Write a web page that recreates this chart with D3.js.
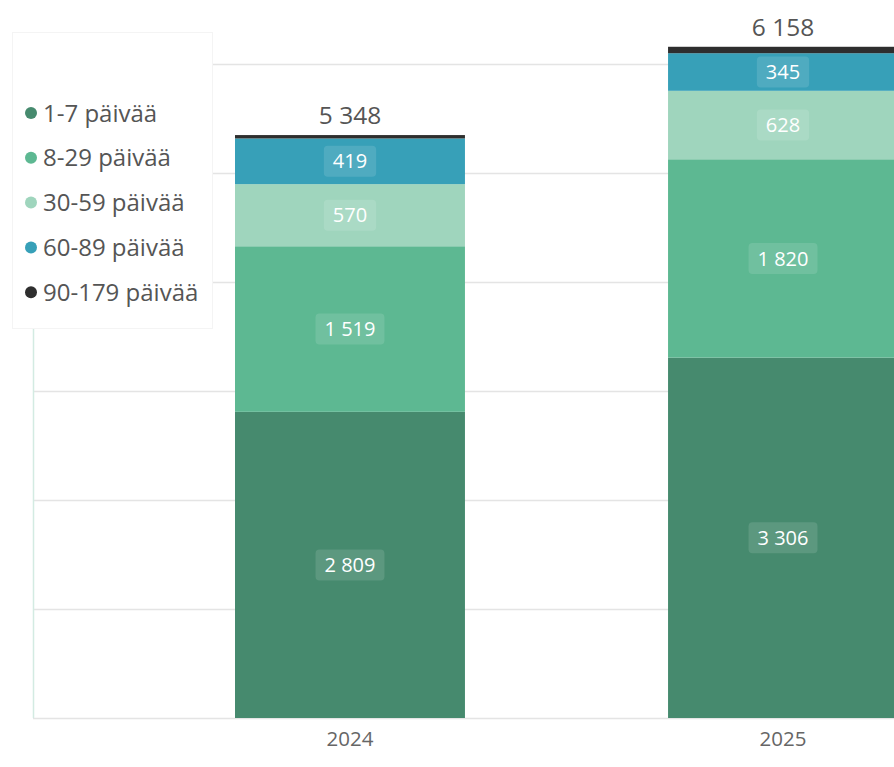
<!DOCTYPE html>
<html><head><meta charset="utf-8">
<script src="https://cdn.jsdelivr.net/npm/d3@7"></script>
<style>body{margin:0;background:#fff;overflow:hidden}svg{display:block}</style>
</head><body>
<svg id="c" width="894" height="767"></svg>
<script>
const years = ["2024", "2025"];
const seriesNames = ["1-7 päivää", "8-29 päivää", "30-59 päivää", "60-89 päivää", "90-179 päivää"];
const v1_7 = [2809, 3306];
const v8_29 = [1519, 1820];
const v30_59 = [570, 628];
const v60_89 = [419, 345];
const v90_179 = [31, 59];
const totals = [5348, 6158];
const yTicks = [0, 1000, 2000, 3000, 4000, 5000, 6000];
const colors = ["#468a6e", "#5db892", "#9fd5bd", "#37a0b8", "#2e2e2e"];

const seriesVals = [v1_7, v8_29, v30_59, v60_89, v90_179];
const rows = years.map((y, i) => {
  const o = {year: y};
  seriesNames.forEach((s, k) => o[s] = seriesVals[k][i]);
  return o;
});
const fmt = d3.formatLocale({decimal: ",", thousands: " ", grouping: [3], currency: ["", "€"]}).format(",d");
const font = "'Open Sans', 'Noto Sans', sans-serif";

const svg = d3.select("#c");
const x = d3.scaleBand().domain(years).range([33, 1100]).paddingInner(0.469).paddingOuter(0.4665);
const y = d3.scaleLinear().domain([0, 6000]).range([718, 64]);

// gridlines
svg.append("g").selectAll("line").data(yTicks).join("line")
  .attr("x1", 33).attr("x2", 894)
  .attr("y1", d => y(d) + 0.5).attr("y2", d => y(d) + 0.5)
  .attr("stroke", "#e4e4e4").attr("stroke-width", 1.5);
svg.append("line").attr("x1", 33.5).attr("x2", 33.5).attr("y1", 300).attr("y2", y(0))
  .attr("stroke", "#d3ebe2").attr("stroke-width", 1.5);

const stack = d3.stack().keys(seriesNames)(rows);
const layers = svg.append("g").selectAll("g").data(stack).join("g")
  .attr("fill", (d, i) => colors[i]);
layers.selectAll("rect").data(d => d).join("rect")
  .attr("x", d => x(d.data.year))
  .attr("width", x.bandwidth())
  .attr("y", d => y(d[1]))
  .attr("height", d => y(d[0]) - y(d[1]));

// data labels
const lab = svg.append("g");
stack.forEach((layer, k) => {
  if (k === 4) return;
  layer.forEach(d => {
    const cx = x(d.data.year) + x.bandwidth() / 2;
    const cy = (y(d[0]) + y(d[1])) / 2;
    const g = lab.append("g");
    const t = g.append("text").attr("x", cx).attr("y", cy).attr("dy", "0.36em")
      .attr("text-anchor", "middle").attr("font-family", font).attr("font-size", 20)
      .attr("fill", "#fff").text(fmt(d[1] - d[0]));
    const bb = t.node().getBBox();
    g.insert("rect", "text").attr("x", bb.x - 9).attr("y", cy - 15.5).attr("width", bb.width + 18)
      .attr("height", 31).attr("rx", 4).attr("fill", "#fff").attr("fill-opacity", 0.12);
  });
});

// totals
svg.append("g").selectAll("text").data(years).join("text")
  .attr("x", d => x(d) + x.bandwidth() / 2)
  .attr("y", (d, i) => y(totals[i]) - 11)
  .attr("text-anchor", "middle").attr("font-family", font).attr("font-size", 24.5)
  .attr("fill", "#555").text((d, i) => fmt(totals[i]));

// x axis
const xa = svg.append("g").attr("transform", `translate(0,${y(0)})`)
  .call(d3.axisBottom(x).tickSize(0).tickPadding(13));
xa.select(".domain").remove();
xa.selectAll("text").attr("font-family", font).attr("font-size", 20.5).attr("fill", "#666");

// legend box
const lg = svg.append("g");
lg.append("rect").attr("x", 12.5).attr("y", 32.5).attr("width", 200).attr("height", 296)
  .attr("fill", "#fff").attr("stroke", "#f4f4f4").attr("stroke-width", 1);
const li = lg.selectAll("g.it").data(seriesNames).join("g").attr("class", "it")
  .attr("transform", (d, i) => `translate(31,${113 + i * 44.8})`);
li.append("circle").attr("r", 6).attr("fill", (d, i) => colors[i]);
li.append("text").attr("x", 12).attr("dy", "0.36em").attr("font-family", font)
  .attr("font-size", 24).attr("fill", "#555").text(d => d);
</script>
</body></html>
